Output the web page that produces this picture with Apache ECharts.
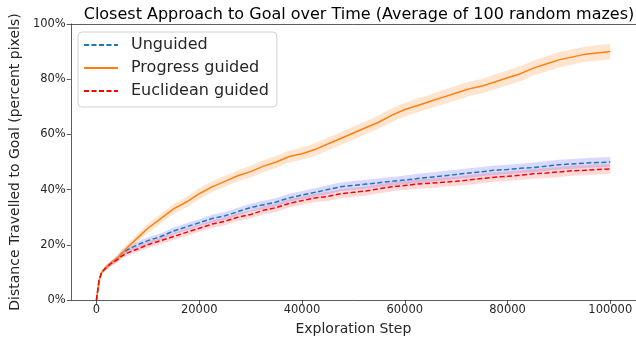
<!DOCTYPE html>
<html>
<head>
<meta charset="utf-8">
<script src="https://cdn.jsdelivr.net/npm/echarts@6/dist/echarts.min.js"></script>
<style>html,body{margin:0;padding:0;background:#fff}#c{width:636px;height:346px}</style>
</head>
<body>
<div id="c"></div>
<script>
const steps = [0,500,1000,2000,3000,4000,5000,6000,8000,10000,12500,15000,17500,20000,22500,25000,27500,30000,32500,35000,37500,40000,42500,45000,47500,50000,52500,55000,57500,60000,62500,65000,67500,70000,72500,75000,77500,80000,82500,85000,87500,90000,92500,95000,97500,100000];
const unguided = [0,7,10,12,13.5,15,17,18.2,20,21.5,23,25,26.5,28,29.5,30.5,32,33.5,34.5,35.5,37,38,39,40,41,41.5,42,42.5,43,43.5,44,44.5,45,45.5,46,46.5,47,47.3,47.7,48,48.5,49,49.3,49.6,49.8,50];
const progress = [0,7,10,12,13.5,15,17,19,22.5,26,29.5,33,35.5,38.5,41,43,45,46.5,48.5,50,52,53,54.5,56.5,58.5,60.5,62.5,64.5,67,69,70.5,72,73.5,75,76.5,77.5,79,80.5,82,84,85.5,87,88,89,89.5,90];
const euclidean = [0,7,10,12,13.5,14.5,16,17,18.5,20,21.5,23,24.5,26,27.5,28.5,30,31,32.5,33.5,35,36,37,37.5,38.5,39,39.5,40.3,41,41.5,42,42.3,42.7,43,43.5,44,44.5,44.8,45.2,45.7,46,46.4,46.8,47,47.3,47.5];
const unguidedBand = [0,0.4,0.6,0.8,0.9,1,1,1.1,1.1,1.2,1.2,1.3,1.3,1.3,1.4,1.4,1.4,1.4,1.5,1.5,1.5,1.5,1.5,1.6,1.6,1.6,1.6,1.6,1.6,1.6,1.7,1.7,1.7,1.7,1.7,1.7,1.7,1.7,1.7,1.8,1.8,1.8,1.8,1.8,1.8,1.8];
const progressBand = [0,0.5,0.8,1,1,1.2,1.3,1.4,1.5,1.6,1.7,1.8,1.9,2,2,2,2,2.1,2.1,2.2,2.2,2.2,2.3,2.3,2.3,2.4,2.4,2.4,2.5,2.5,2.5,2.5,2.6,2.6,2.6,2.6,2.7,2.7,2.7,2.7,2.8,2.8,2.8,2.8,2.8,2.8];
const euclideanBand = [0,0.4,0.6,0.8,0.9,1,1,1.1,1.1,1.2,1.2,1.3,1.3,1.3,1.4,1.4,1.4,1.4,1.5,1.5,1.5,1.5,1.5,1.6,1.6,1.6,1.6,1.6,1.6,1.6,1.7,1.7,1.7,1.7,1.7,1.7,1.7,1.7,1.7,1.8,1.8,1.8,1.8,1.8,1.8,1.8];
const xTicks = [0,20000,40000,60000,80000,100000];
const names = ['Unguided','Progress guided','Euclidean guided'];

const font = 'DejaVu Sans';
function pairs(vals){ return steps.map((s,i)=>[s, vals[i]]); }
function bandSeries(vals, band, color){
  const data = steps.map((s,i)=>[s, vals[i]-band[i], vals[i]+band[i]]);
  return {type:'custom', silent:true, z:1, data:data,
    encode:{x:0, y:[1,2]},
    renderItem:function(params, api){
      if (params.dataIndex !== 0) return null;
      const pts = [];
      for (let i=0;i<data.length;i++) pts.push(api.coord([data[i][0], data[i][2]]));
      for (let i=data.length-1;i>=0;i--) pts.push(api.coord([data[i][0], data[i][1]]));
      return {type:'polygon', shape:{points:pts}, style:{fill:color}};
    }};
}
function lineSeries(name, vals, color, dashed){
  return {name:name, type:'line', symbol:'none', data:pairs(vals), z:3,
    lineStyle:{color:color, width:1.5, type: dashed ? [5,2.5] : 'solid'},
    itemStyle:{color:color}};
}
const axisLineStyle = {color:'#333', width:0.8};
const chart = echarts.init(document.getElementById('c'), null, {renderer:'canvas'});
chart.setOption({
  animation:false,
  backgroundColor:'#fff',
  title:{text:'Closest Approach to Goal over Time (Average of 100 random mazes)',
    left:354, top:2, textAlign:'center',
    textStyle:{fontFamily:font, fontSize:16, fontWeight:'normal', color:'#000'}},
  grid:{left:70, top:24, width:568, height:276, show:false, containLabel:false},
  legend:{data:names, orient:'vertical', left:78, top:32,
    padding:[5,8,8,5], itemGap:7, itemWidth:34, itemHeight:14,
    itemStyle:{opacity:0},
    backgroundColor:'rgba(255,255,255,0.8)', borderColor:'#d0d0d0', borderWidth:1, borderRadius:4,
    textStyle:{fontFamily:font, fontSize:16, color:'#262626', padding:[0,0,0,8]}},
  xAxis:[{type:'value', min:-5000, max:105000, position:'bottom',
    name:'Exploration Step', nameLocation:'middle', nameGap:22,
    nameTextStyle:{fontFamily:font, fontSize:14, color:'#262626'},
    axisLine:{show:true, onZero:false, lineStyle:axisLineStyle},
    axisTick:{show:true, length:4, customValues:xTicks, lineStyle:axisLineStyle},
    axisLabel:{customValues:xTicks, formatter:function(v){return String(v);}, fontFamily:font, fontSize:11.5, color:'#262626', margin:4},
    splitLine:{show:false}},
   {type:'value', min:-5000, max:105000, position:'top',
    axisLine:{show:true, onZero:false, lineStyle:axisLineStyle},
    axisTick:{show:false}, axisLabel:{show:false}, splitLine:{show:false}}],
  yAxis:{type:'value', min:0, max:100, interval:20,
    name:'Distance Travelled to Goal (percent pixels)', nameLocation:'middle', nameGap:48,
    nameTextStyle:{fontFamily:font, fontSize:14, color:'#262626'},
    axisLine:{show:true, onZero:false, lineStyle:axisLineStyle},
    axisTick:{show:true, length:4, lineStyle:axisLineStyle},
    axisLabel:{formatter:'{value}%', fontFamily:font, fontSize:11.5, color:'#262626', margin:5},
    splitLine:{show:false}},
  series:[
    bandSeries(unguided, unguidedBand, 'rgba(0,0,255,0.15)'),
    lineSeries(names[0], unguided, '#1f77b4', true),
    bandSeries(progress, progressBand, 'rgba(255,127,14,0.2)'),
    lineSeries(names[1], progress, '#ff7f0e', false),
    bandSeries(euclidean, euclideanBand, 'rgba(255,0,0,0.15)'),
    lineSeries(names[2], euclidean, '#ff0000', true)
  ]
});
</script>
</body>
</html>
